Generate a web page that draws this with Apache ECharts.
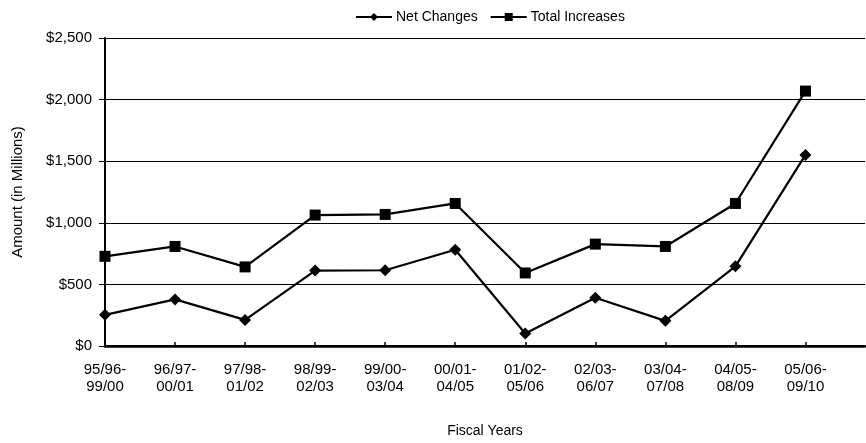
<!DOCTYPE html>
<html>
<head>
<meta charset="utf-8">
<script src="https://cdn.jsdelivr.net/npm/echarts@6/dist/echarts.min.js"></script>
<style>
  html, body { margin: 0; padding: 0; background: #fff; }
  #chart { width: 866px; height: 443px; }
</style>
</head>
<body>
<div id="chart"></div>
<script>
// Fiscal-year windows (five-year spans)
const categories = [
  '95/96-\n99/00', '96/97-\n00/01', '97/98-\n01/02', '98/99-\n02/03',
  '99/00-\n03/04', '00/01-\n04/05', '01/02-\n05/06', '02/03-\n06/07',
  '03/04-\n07/08', '04/05-\n08/09', '05/06-\n09/10'
];
// Amounts in millions of dollars
const netChanges     = [253, 378, 212, 612, 615, 781, 102, 392, 204, 647, 1551];
const totalIncreases = [728, 808, 642, 1063, 1068, 1157, 593, 827, 808, 1157, 2069];
const yTicks = [0, 500, 1000, 1500, 2000, 2500];

const font = 'Liberation Sans, Arial, sans-serif';

function money(v) {
  return '$' + v.toLocaleString('en-US');
}

const chart = echarts.init(document.getElementById('chart'));
chart.setOption({
  animation: false,
  backgroundColor: '#fff',
  textStyle: { fontFamily: font, color: '#000' },
  legend: {
    top: 5,
    left: 350,
    itemGap: 12,
    itemWidth: 36,
    itemHeight: 10,
    textStyle: { fontFamily: font, fontSize: 14, color: '#000', padding: [0, 0, 0, -1] },
    data: ['Net Changes', 'Total Increases']
  },
  grid: { left: 105, right: 1, top: 38, bottom: 94 },
  xAxis: [{
    type: 'value',
    min: 0,
    max: 10.85,
    interval: 1,
    name: 'Fiscal Years',
    nameLocation: 'middle',
    nameGap: 78,
    nameTextStyle: { fontFamily: font, fontSize: 14, color: '#000' },
    axisLine: { show: true, onZero: false, lineStyle: { color: '#000', width: 2 } },
    axisTick: { show: true, inside: true, length: 4, lineStyle: { color: '#000', width: 1.5 } },
    splitLine: { show: false },
    axisLabel: {
      fontFamily: font, fontSize: 15, color: '#000', margin: 15, lineHeight: 17,
      showMaxLabel: false,
      formatter: v => (Number.isInteger(v) && categories[v] !== undefined) ? categories[v] : ''
    }
  }, {
    // top frame line
    type: 'value', position: 'top', min: 0, max: 10.85,
    axisLine: { show: true, lineStyle: { color: '#000', width: 2.5 } },
    axisTick: { show: false }, axisLabel: { show: false }, splitLine: { show: false }
  }],
  yAxis: {
    type: 'value',
    min: yTicks[0],
    max: yTicks[yTicks.length - 1],
    interval: 500,
    name: 'Amount (in Millions)',
    nameLocation: 'middle',
    nameGap: 80,
    nameTextStyle: { fontFamily: font, fontSize: 15, color: '#000' },
    axisLine: { show: true, lineStyle: { color: '#000', width: 2 } },
    axisTick: { show: true, length: 6, lineStyle: { color: '#000', width: 1 } },
    splitLine: { show: true, lineStyle: { color: '#000', width: 1 } },
    axisLabel: { fontFamily: font, fontSize: 15, color: '#000', margin: 13, formatter: money }
  },
  series: [{
    name: 'Net Changes',
    type: 'line',
    data: netChanges.map((v, i) => [i, v]),
    symbol: 'diamond',
    symbolSize: 12,
    lineStyle: { color: '#000', width: 2.2 },
    itemStyle: { color: '#000' },
    z: 3
  }, {
    name: 'Total Increases',
    type: 'line',
    data: totalIncreases.map((v, i) => [i, v]),
    symbol: 'rect',
    symbolSize: 11,
    lineStyle: { color: '#000', width: 2.2 },
    itemStyle: { color: '#000' },
    z: 3
  }]
});
</script>
</body>
</html>
